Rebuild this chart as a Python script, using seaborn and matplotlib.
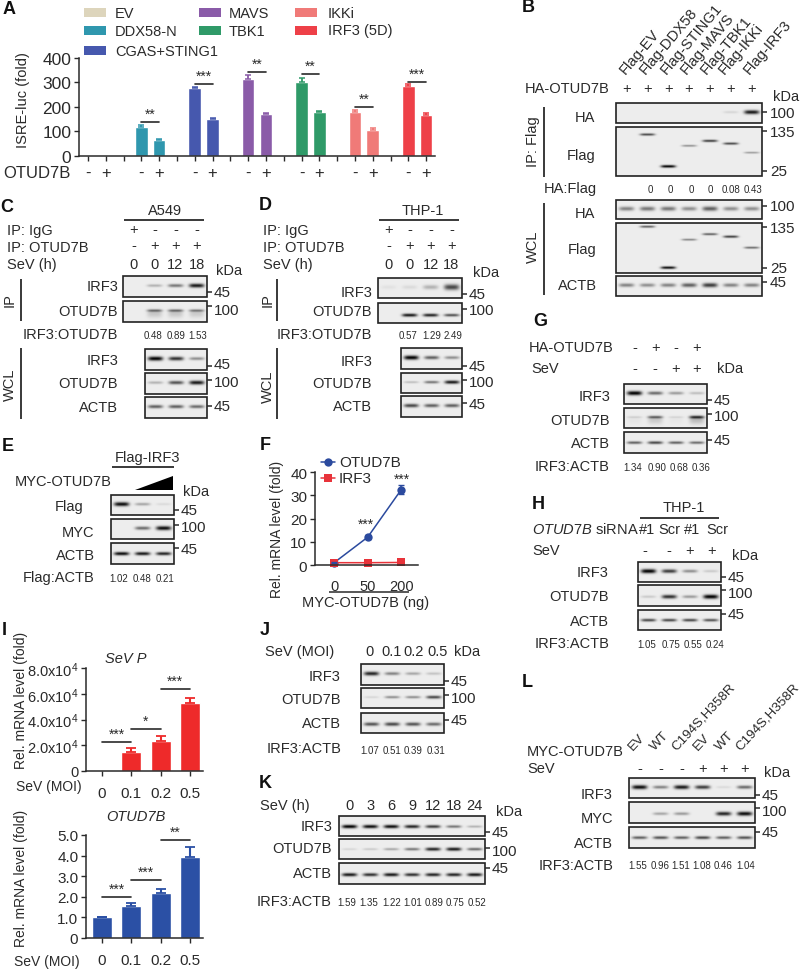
import numpy as np
import pandas as pd
import matplotlib
matplotlib.use("Agg")
import matplotlib.pyplot as plt
from matplotlib.patches import Rectangle, Polygon
import seaborn as sns

sns.set_style("ticks")
plt.rcParams["font.family"] = ["Liberation Sans", "DejaVu Sans"]
plt.rcParams["mathtext.fontset"] = "custom"
plt.rcParams["mathtext.rm"] = "Liberation Sans"
plt.rcParams["mathtext.it"] = "Liberation Sans:italic"
plt.rcParams["mathtext.default"] = "regular"

INK = "#2a2a2a"

### ---------------- DATA ---------------- ###
# Panel A
a_groups = ["EV", "DDX58-N", "CGAS+STING1", "MAVS", "TBK1", "IKKi", "IRF3 (5D)"]
a_colors = ["#DDD5BC", "#2F97AE", "#4658AE", "#8A5BA8", "#2F9A68", "#F07A78", "#EE4048"]
a_minus = [0, 118, 275, 313, 300, 178, 285]
a_plus = [0, 66, 152, 172, 180, 104, 165]
a_minus_err = [0, 8, 7, 15, 18, 10, 6]
a_plus_err = [0, 2, 3, 5, 3, 9, 8]
a_sig = ["**", "***", "**", "**", "**", "***"]
a_sig_y = [138, 294, 343, 334, 200, 302]

# Panel F
f_doses = ["0", "50", "200"]
f_otud7b = [1, 12, 32.5]
f_otud7b_err = [0.3, 0.8, 2.0]
f_irf3 = [1, 1, 1.1]

# Panel I
i_moi = ["0", "0.1", "0.2", "0.5"]
i_sev = [0, 14500, 23000, 53000]
i_sev_err = [0, 3000, 4500, 4000]
i_sev_sig_y = [22500, 32600, 63700]
i_sev_sig = ["***", "*", "***"]
i_otud = [1.0, 1.55, 2.2, 3.95]
i_otud_err = [0.03, 0.13, 0.2, 0.45]
i_otud_sig_y = [1.99, 2.82, 4.76]
i_otud_sig = ["***", "***", "**"]

# Blot band strengths, one per lane
b_ip_ha = [0, 0, 0, 0, 0, 0.1, 0.9]
b_ip_flag = [0, 0.7, 1.0, 0.4, 0.75, 0.7, 0.35]
b_ip_flag_y = [0.5, 0.15, 0.8, 0.38, 0.28, 0.335, 0.52]
b_wcl_ha = [0.45, 0.5, 0.5, 0.4, 0.6, 0.4, 0.4]
b_wcl_flag = [0, 0.6, 0.95, 0.45, 0.6, 0.75, 0.55]
b_wcl_flag_y = [0.5, 0.07, 0.89, 0.33, 0.22, 0.27, 0.49]
b_actb = [0.45, 0.4, 0.45, 0.6, 0.75, 0.45, 0.45]
b_ratio = ["", "0", "0", "0", "0", "0.08", "0.43"]
b_lanes = ["Flag-EV", "Flag-DDX58", "Flag-STING1", "Flag-MAVS", "Flag-TBK1", "Flag-IKKi", "Flag-IRF3"]

c_ip_irf3 = [0, 0.25, 0.5, 0.9]
c_ip_otud = [0, 0.5, 0.5, 0.45]
c_irf3 = [1.0, 0.8, 0.4]
c_otud = [0.25, 0.65, 0.9]
c_actb = [0.6, 0.6, 0.55]
c_ratio = ["0.48", "0.89", "1.53"]

d_ip_irf3 = [0.05, 0.08, 0.25, 0.7]
d_ip_otud = [0, 0.9, 0.85, 0.65]
d_irf3 = [1.0, 0.6, 0.4]
d_otud = [0.2, 0.5, 0.9]
d_actb = [0.7, 0.6, 0.6]
d_ratio = ["0.57", "1.29", "2.49"]

e_flag = [0.95, 0.3, 0.08]
e_myc = [0, 0.55, 0.95]
e_actb = [0.95, 0.9, 0.85]
e_ratio = ["1.02", "0.48", "0.21"]

g_irf3 = [1.0, 0.55, 0.35, 0.2]
g_otud = [0.12, 0.55, 0.1, 0.75]
g_actb = [0.6, 0.7, 0.6, 0.55]
g_ratio = ["1.34", "0.90", "0.68", "0.36"]

h_irf3 = [1.0, 0.75, 0.4, 0.15]
h_otud = [0.15, 0.8, 0.35, 1.0]
h_actb = [0.7, 0.7, 0.7, 0.65]
h_ratio = ["1.05", "0.75", "0.55", "0.24"]

j_irf3 = [0.85, 0.45, 0.3, 0.18]
j_otud = [0.1, 0.4, 0.4, 0.7]
j_actb = [0.65, 0.7, 0.65, 0.55]
j_ratio = ["1.07", "0.51", "0.39", "0.31"]
j_moi = ["0", "0.1", "0.2", "0.5"]

k_irf3 = [1.0, 0.95, 0.95, 0.85, 0.75, 0.5, 0.25]
k_otud = [0.1, 0.15, 0.3, 0.5, 0.85, 0.9, 0.55]
k_actb = [0.9, 0.8, 0.9, 0.8, 0.85, 0.85, 0.9]
k_ratio = ["1.59", "1.35", "1.22", "1.01", "0.89", "0.75", "0.52"]
k_hours = ["0", "3", "6", "9", "12", "18", "24"]

l_irf3 = [0.95, 0.45, 0.9, 0.75, 0.08, 0.55]
l_myc = [0, 0.3, 0.35, 0, 0.85, 0.95]
l_actb = [0.6, 0.65, 0.6, 0.7, 0.6, 0.65]
l_ratio = ["1.55", "0.96", "1.51", "1.08", "0.46", "1.04"]
l_lanes = ["EV", "WT", "C194S,H358R", "EV", "WT", "C194S,H358R"]

fig = plt.figure(figsize=(8, 9.7), dpi=100)
page = fig.add_axes([0, 0, 1, 1], zorder=5)
page.set_xlim(0, 800)
page.set_ylim(970, 0)
page.axis("off")
page.patch.set_alpha(0)


### ---------------- HELPERS ---------------- ###
def px_axes(x0, y0, x1, y1):
    """Axes placed by pixel box (y measured from the top)."""
    ax = fig.add_axes([x0 / 800, 1 - y1 / 970, (x1 - x0) / 800, (y1 - y0) / 970], zorder=2)
    ax.patch.set_alpha(0)
    sns.despine(ax=ax)
    for side in ["left", "bottom"]:
        ax.spines[side].set_linewidth(1.1)
        ax.spines[side].set_color(INK)
    ax.tick_params(colors=INK, width=1.0, length=3.5, pad=2)
    return ax


def txt(x, y, s, size=10.5, ha="left", **kw):
    page.text(x, y, s, fontsize=size, ha=ha, va="center", color=INK, **kw)


def line(x0, y0, x1, y1, lw=1.3):
    page.plot([x0, x1], [y0, y1], color=INK, lw=lw, solid_capstyle="butt")


def letter(x, y, s):
    page.text(x, y, s, fontsize=13, fontweight="bold", ha="left", va="center", color="#111111")


def blot(box, bands, band_y=None, thick=1.9, smear=0.0):
    """Grey blot image with one band per lane and a dark frame."""
    x0, y0, x1, y1 = box
    w, h = int((x1 - x0) * 3), int((y1 - y0) * 3)
    yy, xx = np.mgrid[0:h, 0:w]
    xx = xx / 3
    yy = yy / 3
    img = np.full((h, w), 0.93)
    lane_w = (x1 - x0) / len(bands)
    for i, b in enumerate(bands):
        cy = (0.45 if band_y is None else band_y[i]) * (y1 - y0)
        cx = (i + 0.5) * lane_w
        prof_x = np.exp(-(np.abs(xx - cx) / (lane_w * 0.36)) ** 4)
        sig = thick * (0.6 + 0.5 * b)
        img -= 0.93 * b * prof_x * np.exp(-((yy - cy) / sig) ** 2)
        if smear:
            img -= smear * b * prof_x * np.exp(-((yy - cy - 3) / 4.0) ** 2)
    page.imshow(np.clip(img, 0, 1), cmap="gray", vmin=0, vmax=1, aspect="auto",
                extent=(x0, x1, y1, y0), interpolation="bilinear", zorder=1)
    page.add_patch(Rectangle((x0, y0), x1 - x0, y1 - y0, fill=False, ec="#222222", lw=1.2, zorder=2))
    page.set_xlim(0, 800)
    page.set_ylim(970, 0)


def mw(x, tick_y, text_y, label, gap=7):
    """Molecular weight tick and label to the right of a blot."""
    line(x, tick_y, x + 5, tick_y, lw=1.1)
    txt(x + gap, text_y, label, size=11)


def lane_row(box, y, labels, size=10.5):
    n = len(labels)
    for i, s in enumerate(labels):
        txt(box[0] + (i + 0.5) * (box[2] - box[0]) / n, y, s, size=size, ha="center")


def ratios(xs, y, labels):
    for x, s in zip(xs, labels):
        txt(x, y, s, size=7, ha="center")


def sig_bar(ax, x0, x1, y, stars, size=10):
    ax.plot([x0, x1], [y, y], color=INK, lw=1.2, clip_on=False)
    ax.annotate(stars, ((x0 + x1) / 2, y), xytext=(0, 1), textcoords="offset points",
                ha="center", va="bottom", fontsize=size, color=INK, annotation_clip=False)


def mrna_bars(box, values, errs, color, ylim, ticks, tick_labels, tick_size, sig_y, sig):
    ax = px_axes(*box)
    df = pd.DataFrame({"moi": i_moi, "value": values})
    sns.barplot(data=df, x="moi", y="value", order=i_moi, color=color, saturation=1,
                width=0.68, errorbar=None, ax=ax)
    for k in range(4):
        if values[k] > 0:
            ax.errorbar(k, values[k], yerr=[[0], [errs[k]]], fmt="none", ecolor=color,
                        elinewidth=1.5, capsize=3.5, capthick=1.3)
    ax.set_xlim(-0.55, 3.45)
    ax.set_ylim(*ylim)
    ax.set_yticks(ticks, tick_labels, fontsize=tick_size)
    ax.set_xticks(range(4), i_moi, fontsize=11)
    ax.tick_params(axis="x", pad=7)
    ax.set_xlabel("")
    ax.set_ylabel("")
    for i in range(3):
        sig_bar(ax, i, i + 1, sig_y[i], sig[i])
    return ax


### ---------------- PANEL A ---------------- ###
cats, vals, errs, cols, tick_labels = [], [], [], [], []
for i, g in enumerate(a_groups):
    cats += [g + " -", g + " +"]
    vals += [a_minus[i], a_plus[i]]
    errs += [a_minus_err[i], a_plus_err[i]]
    cols += [a_colors[i], a_colors[i]]
    tick_labels += ["-", "+"]
    if i < len(a_groups) - 1:
        cats.append(f"gap{i}")
        vals.append(np.nan)
        errs.append(0)
        cols.append("white")
        tick_labels.append("")

ax = px_axes(79, 58.7, 435, 157)
df_a = pd.DataFrame({"cat": cats, "value": vals})
sns.barplot(data=df_a, x="cat", y="value", order=cats, hue="cat", hue_order=cats,
            palette=cols, saturation=1, width=0.7, errorbar=None, legend=False, ax=ax)
for k in range(len(cats)):
    if errs[k] > 0:
        ax.errorbar(k, vals[k], yerr=[[0], [errs[k]]], fmt="none", ecolor=cols[k],
                    elinewidth=1.3, capsize=2.5, capthick=1.1)
ax.set_xlim(-0.5, len(cats) - 0.5)
ax.set_ylim(0, 400)
ax.set_yticks([0, 100, 200, 300, 400], ["0", "100", "200", "300", "400"], fontsize=12.5)
ax.set_xticks(range(len(cats)), tick_labels, fontsize=12)
ax.tick_params(axis="x", pad=3)
ax.set_xlabel("")
ax.set_ylabel("")
for i in range(6):
    sig_bar(ax, 3 * i + 3, 3 * i + 4, a_sig_y[i], a_sig[i])

letter(3, 9, "A")
txt(23, 100, "ISRE-luc (fold)", size=10.5, ha="center", rotation=90)
txt(3, 174, "OTUD7B", size=12)
swatches = [(84, 9, 0), (84, 27, 1), (84, 47, 2), (199, 9, 3), (199, 27, 4), (295, 9, 5), (295, 27, 6)]
for x, y, k in swatches:
    page.add_patch(Rectangle((x, y), 22, 9, fc=a_colors[k], ec="none"))
    lx = {84: 115, 199: 229, 295: 328}[x]
    txt(lx, y + 4.5, a_groups[k], size=10.5)

### ---------------- PANEL B ---------------- ###
letter(522, 7, "B")
anchors = [622, 642, 663, 683, 703, 721, 746]
for x, s in zip(anchors, b_lanes):
    page.text(x, 73, s, fontsize=10.6, rotation=50, rotation_mode="anchor", ha="left", va="center", color=INK)
txt(525, 89, "HA-OTUD7B", size=10.5)
for i in range(7):
    txt(616 + (i + 0.5) * 146 / 7, 89, "+", size=10.5, ha="center")
txt(773, 97, "kDa", size=10.5)
blot((616, 104, 762, 124), b_ip_ha)
blot((616, 128, 762, 177), b_ip_flag, band_y=b_ip_flag_y, thick=1.2)
blot((616, 201, 762, 220), b_wcl_ha, thick=2.5)
blot((616, 224, 762, 274), b_wcl_flag, band_y=b_wcl_flag_y, thick=1.2)
blot((616, 277, 762, 297), b_actb, thick=2.2)
for y, ty, s in [(113, 114, "100"), (132, 133, "135"), (172, 172, "25"),
                 (207, 207, "100"), (228, 229, "135"), (269, 269, "25"), (283, 283, "45")]:
    mw(762, y, ty, s, gap=8)
txt(585, 118, "HA", ha="center")
txt(581, 156, "Flag", ha="center")
txt(544, 189, "HA:Flag")
txt(585, 214, "HA", ha="center")
txt(582, 250, "Flag", ha="center")
txt(577, 286, "ACTB", ha="center")
txt(533, 142, "IP: Flag", ha="center", rotation=90)
line(544, 108, 544, 178)
txt(533, 247, "WCL", ha="center", rotation=90)
line(544, 204, 544, 296)
ratios([630, 650, 670, 691, 710, 731, 753], 190, b_ratio)

### ---------------- PANELS C, D ---------------- ###
letter(0, 207, "C")
txt(165, 211, "A549", ha="center")
line(124, 221, 204, 221)
txt(7, 231, "IP: IgG")
txt(7, 248, "IP: OTUD7B")
txt(7, 265, "SeV (h)")
ip_box = (123, 0, 207, 0)
lane_row(ip_box, 230, ["+", "-", "-", "-"])
lane_row(ip_box, 246, ["-", "+", "+", "+"])
lane_row(ip_box, 265, ["0", "0", "12", "18"])
txt(216, 271, "kDa")
blot((123, 277, 207, 298), c_ip_irf3)
blot((123, 302, 207, 323), c_ip_otud, thick=1.5, smear=0.3)
blot((145, 350, 207, 371), c_irf3)
blot((145, 374, 207, 395), c_otud)
blot((145, 398, 207, 419), c_actb)
for y, ty, s in [(293, 293, "45"), (307, 311, "100"), (367, 365, "45"), (381, 383, "100"), (407, 407, "45")]:
    mw(207, y, ty, s)
for y, s in [(287, "IRF3"), (312, "OTUD7B"), (335, "IRF3:OTUD7B"), (361, "IRF3"), (384, "OTUD7B"), (408, "ACTB")]:
    txt(118, y, s, ha="right")
txt(10, 300, "IP", ha="center", rotation=90)
line(21, 280, 21, 322)
txt(10, 385, "WCL", ha="center", rotation=90)
line(21, 349, 21, 420)
ratios([153, 176, 198], 336, c_ratio)

letter(259, 206, "D")
txt(423, 211, "THP-1", ha="center")
line(379, 221, 459, 221)
txt(263, 231, "IP: IgG")
txt(263, 248, "IP: OTUD7B")
txt(263, 265, "SeV (h)")
ip_box = (378, 0, 462, 0)
lane_row(ip_box, 230, ["+", "-", "-", "-"])
lane_row(ip_box, 246, ["-", "+", "+", "+"])
lane_row(ip_box, 265, ["0", "0", "12", "18"])
txt(473, 273, "kDa")
blot((378, 279, 462, 299), d_ip_irf3, thick=3.0)
blot((378, 304, 462, 324), d_ip_otud, band_y=[0.6] * 4, thick=1.5)
blot((401, 349, 462, 370), d_irf3)
blot((401, 374, 462, 394), d_otud, thick=1.6)
blot((401, 397, 462, 418), d_actb)
for y, ty, s in [(295, 295, "45"), (310, 311, "100"), (367, 367, "45"), (381, 383, "100"), (404, 405, "45")]:
    mw(462, y, ty, s)
for y, s in [(293, "IRF3"), (312, "OTUD7B"), (335, "IRF3:OTUD7B"), (362, "IRF3"), (384, "OTUD7B"), (407, "ACTB")]:
    txt(372, y, s, ha="right")
txt(268, 300, "IP", ha="center", rotation=90)
line(277, 280, 277, 322)
txt(268, 387, "WCL", ha="center", rotation=90)
line(277, 349, 277, 420)
ratios([408, 432, 453], 336, d_ratio)

### ---------------- PANEL E ---------------- ###
letter(2, 447, "E")
txt(148, 458, "Flag-IRF3", ha="center")
line(112, 468, 174, 468)
txt(15, 482, "MYC-OTUD7B")
page.add_patch(Polygon([(135, 491), (173, 477), (173, 491)], fc="black", ec="none"))
txt(183, 492, "kDa")
blot((111, 496, 174, 516), e_flag)
blot((111, 520, 174, 540), e_myc)
blot((111, 544, 174, 565), e_actb, band_y=[0.5] * 3, thick=1.6)
for y, ty, s in [(511, 511, "45"), (526, 528, "100"), (549, 550, "45")]:
    mw(174, y, ty, s)
txt(83, 507, "Flag", ha="right")
txt(94, 533, "MYC", ha="right")
txt(95, 556, "ACTB", ha="right")
txt(95, 578, "Flag:ACTB", ha="right")
ratios([119, 142, 165], 579, e_ratio)

### ---------------- PANEL F ---------------- ###
letter(260, 446, "F")
ax = px_axes(315, 473.3, 418, 566)
x_f = list(range(3))
df_f = pd.DataFrame({"dose": x_f * 2, "value": f_otud7b + f_irf3,
                     "gene": ["OTUD7B"] * 3 + ["IRF3"] * 3})
f_palette = {"OTUD7B": "#2B4A9E", "IRF3": "#E8333A"}
sns.lineplot(data=df_f, x="dose", y="value", hue="gene", style="gene", palette=f_palette,
             markers={"OTUD7B": "o", "IRF3": "s"}, dashes=False, markersize=6, linewidth=1.1,
             markeredgewidth=0, errorbar=None, legend=False, ax=ax, clip_on=False)
ax.errorbar(x_f, f_otud7b, yerr=f_otud7b_err, fmt="none", ecolor=f_palette["OTUD7B"],
            elinewidth=1.1, capsize=2.5, clip_on=False)
ax.set_xlim(-0.57, 2.5)
ax.set_ylim(0, 40)
ax.set_yticks([0, 10, 20, 30, 40], ["0", "10", "20", "30", "40"], fontsize=11)
ax.set_xticks(x_f, f_doses, fontsize=10.5)
ax.tick_params(axis="x", length=0, pad=10)
ax.set_xlabel("")
ax.set_ylabel("")
txt(277, 529, "Rel. mRNA level (fold)", size=10, ha="center", rotation=90)
page.plot([321, 335], [463, 463], color=f_palette["OTUD7B"], lw=1.1)
page.plot([328], [463], color=f_palette["OTUD7B"], marker="o", ms=6, mew=0)
page.plot([321, 335], [479, 479], color=f_palette["IRF3"], lw=1.1)
page.plot([328], [479], color=f_palette["IRF3"], marker="s", ms=6, mew=0)
txt(339, 463, "OTUD7B", size=11)
txt(339, 479, "IRF3", size=11)
txt(366, 525, "***", ha="center", size=10)
txt(402, 480, "***", ha="center", size=10)
line(329, 593, 409, 593, lw=1.1)
txt(366, 603, "MYC-OTUD7B (ng)", ha="center")

### ---------------- PANEL G ---------------- ###
letter(533, 322, "G")
g_box = (624, 385, 707, 405)
txt(613, 348, "HA-OTUD7B", ha="right")
txt(531, 369, "SeV")
lane_row(g_box, 348, ["-", "+", "-", "+"])
lane_row(g_box, 369, ["-", "-", "+", "+"])
txt(717, 369, "kDa")
blot(g_box, g_irf3)
blot((624, 409, 707, 429), g_otud, thick=1.5, smear=0.25)
blot((624, 433, 707, 454), g_actb, band_y=[0.5] * 4, thick=1.5)
for y, ty, s in [(401, 401, "45"), (415, 417, "100"), (441, 441, "45")]:
    mw(707, y, ty, s)
for y, s in [(397, "IRF3"), (421, "OTUD7B"), (444, "ACTB"), (467, "IRF3:ACTB")]:
    txt(610, y, s, ha="right")
ratios([633, 657, 679, 701], 468, g_ratio)

### ---------------- PANEL H ---------------- ###
letter(532, 505, "H")
h_box = (638, 563, 721, 583)
txt(684, 508, "THP-1", ha="center")
line(640, 519, 719, 519)
txt(532, 530, r"$\mathit{OTUD7B}$ siRNA")
for x, s in zip([647, 669, 692, 717], ["#1", "Scr", "#1", "Scr"]):
    txt(x, 530, s, ha="center")
txt(532, 551, "SeV")
for x, s in zip([645, 669, 690, 712], ["-", "-", "+", "+"]):
    txt(x, 551, s, ha="center")
txt(732, 556, "kDa")
blot(h_box, h_irf3)
blot((638, 586, 721, 607), h_otud, band_y=[0.55] * 4)
blot((638, 611, 721, 631), h_actb, band_y=[0.5] * 4, thick=1.5)
for y, ty, s in [(578, 578, "45"), (591, 594, "100"), (615, 615, "45")]:
    mw(721, y, ty, s)
for y, s in [(573, "IRF3"), (597, "OTUD7B"), (622, "ACTB"), (644, "IRF3:ACTB")]:
    txt(609, y, s, ha="right")
ratios([647, 671, 693, 715], 645, h_ratio)

### ---------------- PANEL I ---------------- ###
letter(2, 631, "I")
sev_ticks = [0, 20000, 40000, 60000, 80000]
sev_labels = ["0", r"2.0x10$^{4}$", r"4.0x10$^{4}$", r"6.0x10$^{4}$", r"8.0x10$^{4}$"]
mrna_bars((86, 669, 203, 772), i_sev, i_sev_err, "#EE2A2A", (0, 80000), sev_ticks, sev_labels, 10.5,
          i_sev_sig_y, i_sev_sig)
otud_ticks = [0, 1, 2, 3, 4, 5]
otud_labels = ["0", "1.0", "2.0", "3.0", "4.0", "5.0"]
mrna_bars((86, 836, 203, 939), i_otud, i_otud_err, "#2B50A5", (0, 5), otud_ticks, otud_labels, 11,
          i_otud_sig_y, i_otud_sig)
txt(126, 659, "SeV P", size=10.5, ha="center", style="italic")
txt(136, 817, "OTUD7B", size=10.5, ha="center", style="italic")
txt(21, 700, "Rel. mRNA level (fold)", size=10, ha="center", rotation=90)
txt(21, 878, "Rel. mRNA level (fold)", size=10, ha="center", rotation=90)
txt(16, 787, "SeV (MOI)", size=10)
txt(14, 962, "SeV (MOI)", size=10)

### ---------------- PANEL J ---------------- ###
letter(260, 631, "J")
txt(265, 652, "SeV (MOI)")
for x, s in zip([370, 392, 414, 438], j_moi):
    txt(x, 652, s, ha="center")
txt(454, 652, "kDa")
blot((361, 665, 444, 686), j_irf3)
blot((361, 689, 444, 709), j_otud, thick=1.6)
blot((361, 714, 444, 734), j_actb, band_y=[0.55] * 4)
for y, ty, s in [(682, 682, "45"), (696, 699, "100"), (721, 721, "45")]:
    mw(444, y, ty, s)
for y, s in [(677, "IRF3"), (700, "OTUD7B"), (724, "ACTB"), (749, "IRF3:ACTB")]:
    txt(341, y, s, ha="right")
ratios([370, 392, 413, 436], 751, j_ratio)

### ---------------- PANEL K ---------------- ###
letter(259, 784, "K")
k_box = (339, 817, 485, 837)
txt(260, 806, "SeV (h)")
lane_row(k_box, 806, k_hours)
txt(496, 812, "kDa")
blot(k_box, k_irf3, band_y=[0.52] * 7, thick=1.6)
blot((339, 840, 485, 860), k_otud, thick=1.6, band_y=[0.5] * 7)
blot((339, 864, 485, 885), k_actb, band_y=[0.55] * 7, thick=1.6)
for y, ty, s in [(833, 833, "45"), (849, 852, "100"), (869, 869, "45")]:
    mw(485, y, ty, s)
for y, s in [(827, "IRF3"), (849, "OTUD7B"), (874, "ACTB"), (902, "IRF3:ACTB")]:
    txt(332, y, s, ha="right")
ratios([347, 369, 392, 413, 434, 455, 477], 903, k_ratio)

### ---------------- PANEL L ---------------- ###
letter(522, 683, "L")
l_box = (629, 779, 755, 799)
for x, s in zip([631, 653, 674, 696, 718, 738], l_lanes):
    page.text(x, 749, s, fontsize=9.6, rotation=47, rotation_mode="anchor", ha="left", va="center", color=INK)
txt(527, 752, "MYC-OTUD7B")
txt(527, 769, "SeV")
lane_row(l_box, 769, ["-", "-", "-", "+", "+", "+"])
txt(764, 773, "kDa")
blot(l_box, l_irf3)
blot((629, 803, 755, 824), l_myc, band_y=[0.55] * 6)
blot((629, 828, 755, 849), l_actb, band_y=[0.5] * 6, thick=1.6)
for y, ty, s in [(796, 796, "45"), (809, 812, "100"), (833, 833, "45")]:
    mw(755, y, ty, s)
for y, s in [(795, "IRF3"), (819, "MYC"), (844, "ACTB"), (866, "IRF3:ACTB")]:
    txt(613, y, s, ha="right")
ratios([638, 660, 681, 702, 723, 746], 866, l_ratio)

fig.savefig("out.png", dpi=100)
